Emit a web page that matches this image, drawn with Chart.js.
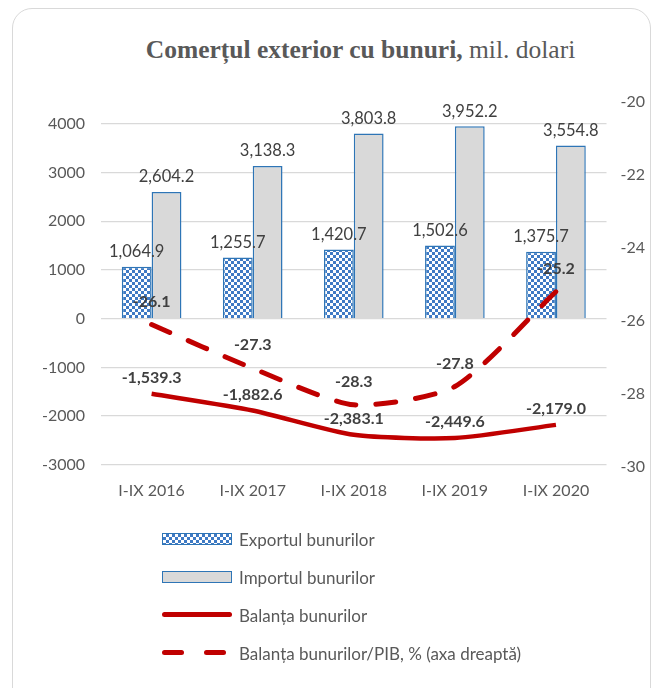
<!DOCTYPE html>
<html>
<head>
<meta charset="utf-8">
<script src="https://cdn.jsdelivr.net/npm/chart.js@4"></script>
<style>
  html, body { margin: 0; padding: 0; background: #fff; }
  body { width: 659px; height: 688px; position: relative; overflow: hidden; font-family: Lato, sans-serif; }
  .card { position: absolute; left: 12px; top: 8px; width: 639px; height: 700px; border: 1.5px solid #d9d9d9; border-radius: 20px; box-sizing: border-box; }
  #title { position: absolute; left: 0; width: 659px; top: 35px; text-align: center; font-family: "Liberation Serif", serif; font-size: 25.5px; color: #595959; padding-left: 62px; box-sizing: border-box; }
  #title b { font-weight: bold; }
  canvas { position: absolute; left: 0; top: 0; }
  #legend { position: absolute; left: 162px; top: 520px; color: #595959; font-size: 17px; }
  .item { height: 38px; display: flex; align-items: center; }
  .sw { width: 70px; height: 12px; margin-right: 7px; box-sizing: border-box; position: relative; }
  .sw.exp { border: 1.5px solid #2e75b6; background: repeating-conic-gradient(#3f7ac4 0% 25%, #fff 0% 50%) 0 0 / 6px 6px; }
  .sw.imp { border: 1.5px solid #2e75b6; background: #d9d9d9; }
  .sw.bal::after { content: ""; position: absolute; left: 0; right: 0; top: 3px; height: 5px; border-radius: 3px; background: #c00000; }
  .sw.pib::before, .sw.pib::after { content: ""; position: absolute; top: 3px; height: 5px; width: 22px; border-radius: 3px; background: #c00000; }
  .sw.pib::before { left: 0; }
  .sw.pib::after { left: 42px; }
</style>
</head>
<body>
<div class="card"></div>
<div id="title"><b>Comerțul exterior cu bunuri,</b> mil. dolari</div>
<canvas id="c" width="659" height="688"></canvas>
<div id="legend"></div>
<script>
const years = ['I-IX 2016', 'I-IX 2017', 'I-IX 2018', 'I-IX 2019', 'I-IX 2020'];
const exportValues = [1064.9, 1255.7, 1420.7, 1502.6, 1375.7];
const importValues = [2604.2, 3138.3, 3803.8, 3952.2, 3554.8];
const balanceValues = [-1539.3, -1882.6, -2383.1, -2449.6, -2179.0];
const balancePibValues = [-26.1, -27.3, -28.3, -27.8, -25.2];
const leftTicks = [-3000, -2000, -1000, 0, 1000, 2000, 3000, 4000];
const rightTicks = [-30, -28, -26, -24, -22, -20];

// checkerboard fill for exports
const pc = document.createElement('canvas');
pc.width = 6; pc.height = 6;
const px = pc.getContext('2d');
px.fillStyle = '#fff'; px.fillRect(0, 0, 6, 6);
px.fillStyle = '#3f7ac4';
px.fillRect(0, 0, 3, 3); px.fillRect(3, 3, 3, 3);
const checker = px.createPattern(pc, 'repeat');

const fmt = v => v.toLocaleString('en-US', { minimumFractionDigits: 1, maximumFractionDigits: 1 });

// value labels drawn above bars / points
const valueLabels = {
  id: 'valueLabels',
  afterDatasetsDraw(chart) {
    const ctx = chart.ctx;
    ctx.save();
    ctx.textAlign = 'center';
    ctx.textBaseline = 'middle';
    ctx.fillStyle = '#404040';
    chart.data.datasets.forEach((ds, i) => {
      const meta = chart.getDatasetMeta(i);
      meta.data.forEach((el, j) => {
        const v = ds.data[j];
        if (ds.type === 'line') {
          ctx.font = 'bold 16px Lato';
          const off = ds.yAxisID === 'y2' ? 23 : 16;
          ctx.fillText(fmt(v), el.x, el.y - off);
        } else {
          ctx.font = '16.5px Lato';
          ctx.fillText(fmt(v), el.x, el.y - 15);
        }
      });
    });
    ctx.restore();
  }
};

const chart = new Chart(document.getElementById('c'), {
  data: {
    labels: years,
    datasets: [
      {
        type: 'line', label: 'Balanța bunurilor', data: balanceValues, yAxisID: 'y',
        borderColor: '#c00000', borderWidth: 4.5, pointRadius: 0, tension: 0.22, order: 1
      },
      {
        type: 'line', label: 'Balanța bunurilor/PIB, % (axa dreaptă)', data: balancePibValues, yAxisID: 'y2',
        borderColor: '#c00000', borderWidth: 5, borderDash: [20, 20], borderCapStyle: 'round',
        pointRadius: 0, tension: 0.22, order: 0
      },
      {
        type: 'bar', label: 'Exportul bunurilor', data: exportValues, yAxisID: 'y',
        backgroundColor: checker, borderColor: '#2e75b6', borderWidth: 1.5, order: 3,
        categoryPercentage: 0.59, barPercentage: 1
      },
      {
        type: 'bar', label: 'Importul bunurilor', data: importValues, yAxisID: 'y',
        backgroundColor: '#d9d9d9', borderColor: '#2e75b6', borderWidth: 1.5, order: 3,
        categoryPercentage: 0.59, barPercentage: 1
      }
    ]
  },
  options: {
    responsive: false,
    animation: false,
    layout: { padding: { top: 102, bottom: 174, left: 26, right: 0 } },
    plugins: { legend: { display: false }, title: { display: false }, tooltip: { enabled: false } },
    scales: {
      x: {
        grid: { display: false, drawTicks: false },
        border: { display: false },
        ticks: { color: '#595959', font: { family: 'Lato', size: 16 }, padding: 14 }
      },
      y: {
        position: 'left', min: -3040, max: 4450,
        afterBuildTicks: s => { s.ticks = leftTicks.map(v => ({ value: v })); },
        grid: { color: '#d9d9d9', lineWidth: 1.3, drawTicks: false },
        border: { display: false },
        ticks: { color: '#595959', font: { family: 'Lato', size: 16 }, padding: 16, callback: v => String(v) }
      },
      y2: {
        position: 'right', min: -30, max: -20,
        afterBuildTicks: s => { s.ticks = rightTicks.map(v => ({ value: v })); },
        grid: { display: false, drawTicks: false },
        border: { display: false },
        ticks: { color: '#595959', font: { family: 'Lato', size: 16 }, padding: 14 }
      }
    }
  },
  plugins: [valueLabels]
});

// vertical legend, like the original
const legendItems = [
  ['exp', 'Exportul bunurilor'],
  ['imp', 'Importul bunurilor'],
  ['bal', 'Balanța bunurilor'],
  ['pib', 'Balanța bunurilor/PIB, % (axa dreaptă)']
];
const lg = document.getElementById('legend');
legendItems.forEach(([cls, text]) => {
  const d = document.createElement('div');
  d.className = 'item';
  d.innerHTML = '<span class="sw ' + cls + '"></span><span>' + text + '</span>';
  lg.appendChild(d);
});
</script>
</body>
</html>
